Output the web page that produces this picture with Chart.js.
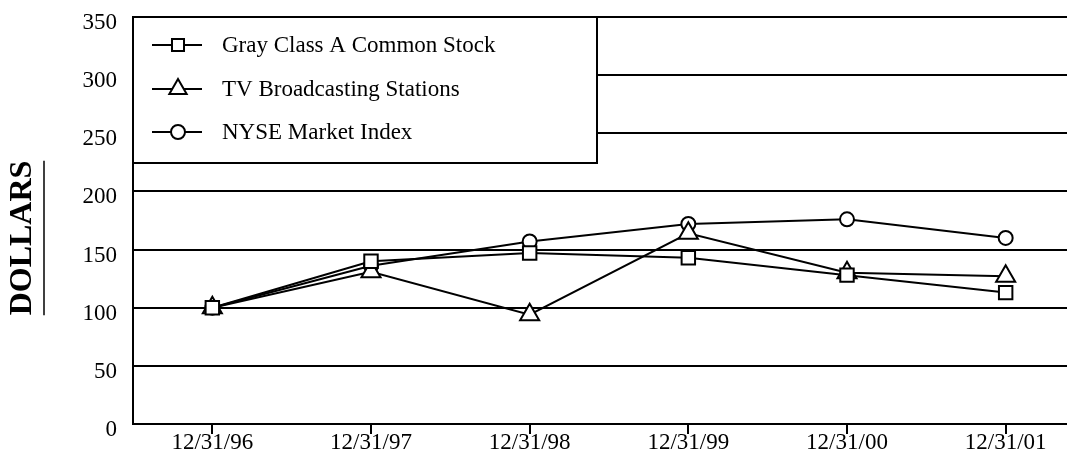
<!DOCTYPE html>
<html>
<head>
<meta charset="utf-8">
<script src="https://cdn.jsdelivr.net/npm/chart.js@4.4.0/dist/chart.umd.min.js"></script>
<style>
  html, body { margin: 0; padding: 0; background: #fff; overflow: hidden; }
  #wrap { width: 1100px; height: 461px; position: relative; }
</style>
</head>
<body>
<div id="wrap"><canvas id="c" width="1100" height="461"></canvas></div>
<script>
const categories = ['12/31/96', '12/31/97', '12/31/98', '12/31/99', '12/31/00', '12/31/01'];
const grayClassA = [100, 140, 147, 143, 128, 113];
const tvStations = [100, 131, 94, 164, 130, 127];
const nyseIndex = [100, 136, 157, 172, 176, 160];
const yTicks = [0, 50, 100, 150, 200, 250, 300, 350];
const axisTitle = 'DOLLARS';

const FONT = '"Liberation Serif", "Times New Roman", serif';

function ds(label, data, style, radius) {
  return {
    label, data,
    borderColor: '#000', borderWidth: 2,
    pointStyle: style, pointRadius: radius, pointHoverRadius: radius,
    pointBackgroundColor: '#fff', pointBorderColor: '#000', pointBorderWidth: 2,
    tension: 0, fill: false
  };
}

const legendBox = {
  id: 'legendBox',
  afterDraw(chart) {
    const ctx = chart.ctx;
    const a = chart.chartArea;
    ctx.save();
    const bx = a.left, by = a.top, bw = 597 - a.left, bh = 163 - a.top;
    ctx.fillStyle = '#fff';
    ctx.fillRect(bx, by, bw, bh);
    ctx.strokeStyle = '#000';
    ctx.lineWidth = 2;
    ctx.strokeRect(bx, by, bw, bh);
    const rows = [45, 89, 132];
    const radii = [8.5, 10, 7];
    chart.data.datasets.forEach((d, i) => {
      const y = rows[i];
      ctx.beginPath();
      ctx.moveTo(152, y); ctx.lineTo(202, y);
      ctx.lineWidth = 2; ctx.strokeStyle = '#000'; ctx.stroke();
      ctx.fillStyle = '#fff'; ctx.strokeStyle = '#000'; ctx.lineWidth = 2;
      Chart.helpers.drawPoint(ctx, { pointStyle: d.pointStyle, radius: radii[i], rotation: 0, borderWidth: 2 }, 178, y);
      ctx.fillStyle = '#000';
      ctx.font = '23px ' + FONT;
      ctx.textAlign = 'left'; ctx.textBaseline = 'middle';
      ctx.fillText(d.label, 222, y + 1);
    });
    ctx.translate(23, 238);
    ctx.rotate(-Math.PI / 2);
    ctx.font = 'bold 32px ' + FONT;
    ctx.textAlign = 'center'; ctx.textBaseline = 'middle';
    ctx.fillStyle = '#000';
    ctx.fillText(axisTitle, 0, 0);
    const w = ctx.measureText(axisTitle).width;
    ctx.beginPath();
    ctx.moveTo(-w / 2, 21); ctx.lineTo(w / 2, 21);
    ctx.lineWidth = 1.5; ctx.stroke();
    ctx.restore();
  }
};

new Chart(document.getElementById('c'), {
  type: 'line',
  data: {
    labels: categories,
    datasets: [
      ds('Gray Class A Common Stock', grayClassA, 'rect', 9.5),
      ds('TV Broadcasting Stations', tvStations, 'triangle', 11),
      ds('NYSE Market Index', nyseIndex, 'circle', 7)
    ]
  },
  options: {
    responsive: false,
    animation: false,
    devicePixelRatio: 1,
    layout: { padding: { top: 17, right: 15, left: 0, bottom: 0 } },
    plugins: { legend: { display: false }, tooltip: { enabled: false } },
    scales: {
      x: {
        type: 'category',
        offset: true,
        grid: { offset: false, drawOnChartArea: false, drawTicks: true, tickLength: 10, color: '#000', lineWidth: 2 },
        border: { display: true, color: '#000', width: 2 },
        ticks: { color: '#000', font: { family: FONT, size: 23, lineHeight: 1 }, padding: -3, maxRotation: 0, autoSkip: false },
        afterFit(scale) { scale.height = 37; scale.paddingLeft = 0; scale.paddingRight = 0; }
      },
      y: {
        min: 0, max: 350,
        afterBuildTicks(scale) { scale.ticks = yTicks.map(v => ({ value: v })); },
        grid: { color: '#000', lineWidth: 2, drawTicks: false },
        border: { display: true, color: '#000', width: 2 },
        ticks: { color: '#000', font: { family: FONT, size: 23 }, padding: 16, labelOffset: 6 },
        afterFit(scale) { scale.width = 133; scale.paddingTop = 0; scale.paddingBottom = 0; }
      }
    }
  },
  plugins: [legendBox]
});
</script>
</body>
</html>
